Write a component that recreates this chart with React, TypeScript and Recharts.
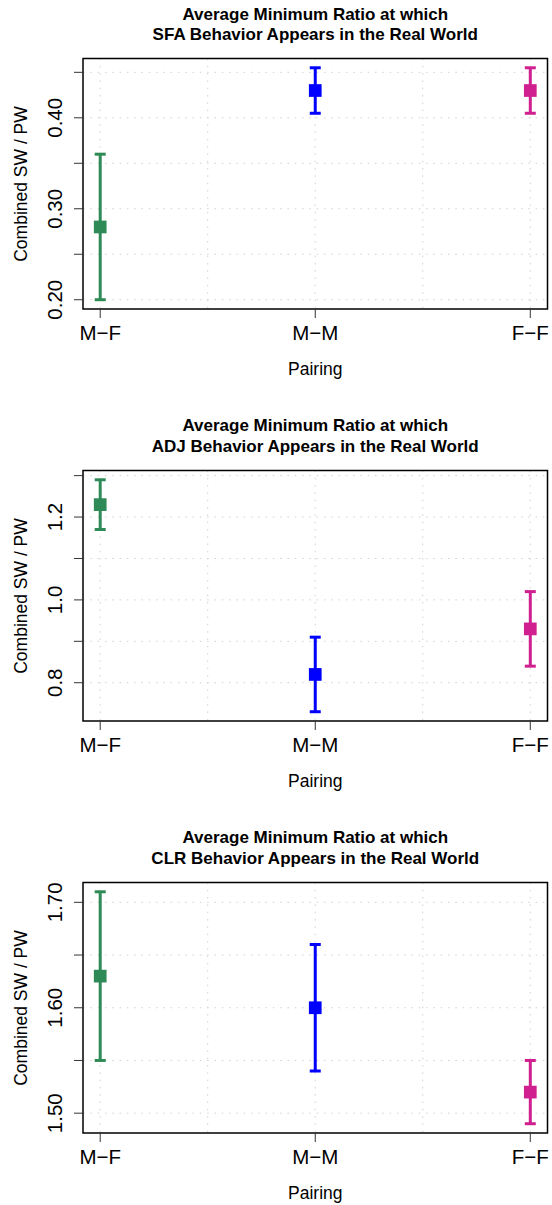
import React from 'react';
import {
  ScatterChart,
  Scatter,
  XAxis,
  YAxis,
  CartesianGrid,
  ErrorBar,
  ReferenceArea,
} from 'recharts';

// --- data ---
const pairings = ['M\u2212F', 'M\u2212M', 'F\u2212F'];
const pairingX = [1, 2, 3];
const pairingColors = ['#2E8B57', '#0000FF', '#D02090'];

const sfaMean = [0.28, 0.43, 0.43];
const sfaLow = [0.2, 0.405, 0.405];
const sfaHigh = [0.36, 0.455, 0.455];

const adjMean = [1.23, 0.82, 0.93];
const adjLow = [1.17, 0.73, 0.84];
const adjHigh = [1.29, 0.91, 1.02];

const clrMean = [1.63, 1.6, 1.52];
const clrLow = [1.55, 1.54, 1.49];
const clrHigh = [1.71, 1.66, 1.55];

const sfaTicks = [0.2, 0.25, 0.3, 0.35, 0.4, 0.45];
const sfaLabels = [0.2, 0.3, 0.4];
const adjTicks = [0.8, 0.9, 1.0, 1.1, 1.2, 1.3];
const adjLabels = [0.8, 1.0, 1.2];
const clrTicks = [1.5, 1.55, 1.6, 1.65, 1.7];
const clrLabels = [1.5, 1.6, 1.7];

const xGrid = [1, 1.5, 2, 2.5, 3];
const X_DOMAIN: [number, number] = [0.92, 3.08];

// layout (px)
const W = 552;
const H = 411;
const PANEL_TOPS = [0, 411.8, 823.8];
const PLOT_LEFT = 83;
const PLOT_RIGHT = 547.5;
const PLOT_TOP = 58.5;
const PLOT_BOTTOM = 309;
const PLOT_CX = (PLOT_LEFT + PLOT_RIGHT) / 2;
const FONT = '"Liberation Sans", Arial, Helvetica, sans-serif';
const TICK_FS = 20.5;

type Panel = {
  code: string;
  mean: number[];
  low: number[];
  high: number[];
  ticks: number[];
  labels: number[];
  digits: number;
};

const panels: Panel[] = [
  { code: 'SFA', mean: sfaMean, low: sfaLow, high: sfaHigh, ticks: sfaTicks, labels: sfaLabels, digits: 2 },
  { code: 'ADJ', mean: adjMean, low: adjLow, high: adjHigh, ticks: adjTicks, labels: adjLabels, digits: 1 },
  { code: 'CLR', mean: clrMean, low: clrLow, high: clrHigh, ticks: clrTicks, labels: clrLabels, digits: 2 },
];

// R style 4% padding around the data range
const yDomain = (low: number[], high: number[]): [number, number] => {
  const lo = Math.min(...low);
  const hi = Math.max(...high);
  const pad = (hi - lo) * 0.04;
  return [lo - pad, hi + pad];
};

const XTick = ({ x, payload }: any) => {
  const i = pairingX.indexOf(payload.value);
  return (
    <text
      x={x}
      y={PLOT_BOTTOM + 23.7 + TICK_FS * 0.358}
      textAnchor="middle"
      fontFamily={FONT}
      fontSize={TICK_FS}
      fill="#000"
    >
      {pairings[i]}
    </text>
  );
};

const makeYTick = (labels: number[], digits: number) => ({ y, payload }: any) => {
  const v = payload.value;
  if (!labels.some((l) => Math.abs(l - v) < 1e-9)) return <g />;
  const tx = 54.5 + TICK_FS * 0.358;
  return (
    <text
      x={tx}
      y={y}
      transform={`rotate(-90 ${tx} ${y})`}
      textAnchor="middle"
      fontFamily={FONT}
      fontSize={TICK_FS}
      fill="#000"
    >
      {v.toFixed(digits)}
    </text>
  );
};

const squareShape = (color: string) => (props: any) => {
  const { cx, cy } = props;
  const s = 12.7;
  return <rect x={cx - s / 2} y={cy - s / 2} width={s} height={s} fill={color} />;
};

const centered: React.CSSProperties = {
  position: 'absolute',
  transform: 'translate(-50%, -50%)',
  whiteSpace: 'nowrap',
  fontFamily: FONT,
  lineHeight: 1,
  color: '#000',
};

const PanelChart = ({ panel, top }: { panel: Panel; top: number }) => {
  const domain = yDomain(panel.low, panel.high);
  const YTick = makeYTick(panel.labels, panel.digits);
  return (
    <div style={{ position: 'absolute', left: 0, top, width: W, height: H }}>
      <ScatterChart width={W} height={H} margin={{ top: PLOT_TOP, right: W - PLOT_RIGHT, bottom: 0, left: 0 }}>
        <CartesianGrid
          stroke="#D3D3D3"
          strokeDasharray="1.6 5.7"
          horizontalValues={panel.ticks}
          verticalValues={xGrid}
        />
        <XAxis
          type="number"
          dataKey="x"
          domain={X_DOMAIN}
          allowDataOverflow
          ticks={pairingX}
          height={H - PLOT_TOP - (PLOT_BOTTOM - PLOT_TOP) - 0}
          axisLine={false}
          tickLine={{ stroke: '#333' }}
          tickSize={9}
          tick={<XTick />}
          interval={0}
        />
        <YAxis
          type="number"
          dataKey="y"
          domain={domain}
          allowDataOverflow
          ticks={panel.ticks}
          width={PLOT_LEFT}
          axisLine={false}
          tickLine={{ stroke: '#333' }}
          tickSize={9}
          tick={YTick}
          interval={0}
        />
        <ReferenceArea
          x1={X_DOMAIN[0]}
          x2={X_DOMAIN[1]}
          y1={domain[0]}
          y2={domain[1]}
          fill="none"
          stroke="#000"
          strokeWidth={1.5}
          ifOverflow="visible"
        />
        {pairings.map((p, i) => (
          <Scatter
            key={p}
            name={p}
            data={[
              {
                x: pairingX[i],
                y: panel.mean[i],
                err: [panel.mean[i] - panel.low[i], panel.high[i] - panel.mean[i]],
              },
            ]}
            fill={pairingColors[i]}
            shape={squareShape(pairingColors[i])}
            isAnimationActive={false}
          >
            <ErrorBar
              dataKey="err"
              direction="y"
              width={5.5}
              strokeWidth={3}
              stroke={pairingColors[i]}
              isAnimationActive={false}
            />
          </Scatter>
        ))}
      </ScatterChart>
      <div style={{ ...centered, left: PLOT_CX, top: 13.5, fontSize: 17, fontWeight: 'bold' }}>
        Average Minimum Ratio at which
      </div>
      <div style={{ ...centered, left: PLOT_CX, top: 34, fontSize: 17, fontWeight: 'bold' }}>
        {panel.code} Behavior Appears in the Real World
      </div>
      <div
        style={{
          ...centered,
          left: 21.5,
          top: (PLOT_TOP + PLOT_BOTTOM) / 2,
          fontSize: 17.5,
          transform: 'translate(-50%, -50%) rotate(-90deg)',
        }}
      >
        Combined SW / PW
      </div>
      <div style={{ ...centered, left: PLOT_CX, top: PLOT_BOTTOM + 61, fontSize: 17.5 }}>Pairing</div>
    </div>
  );
};

export default function App() {
  return (
    <div
      style={{
        position: 'absolute',
        left: 0,
        top: 0,
        width: W,
        height: 1205,
        overflow: 'hidden',
        background: '#fff',
      }}
    >
      {panels.map((p, i) => (
        <PanelChart key={p.code} panel={p} top={PANEL_TOPS[i]} />
      ))}
    </div>
  );
}
